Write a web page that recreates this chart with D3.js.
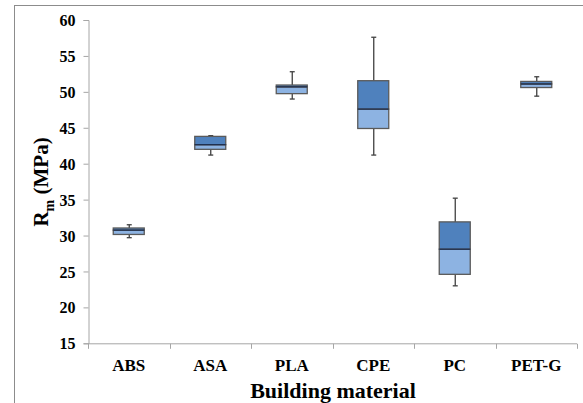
<!DOCTYPE html>
<html>
<head>
<meta charset="utf-8">
<script src="https://cdn.jsdelivr.net/npm/d3@7"></script>
<style>
  body { margin: 0; background: #fff; }
  svg text { font-family: "Liberation Serif", "Times New Roman", serif !important; font-weight: bold; }
</style>
</head>
<body>
<div id="chart"></div>
<script>
// box plot values (MPa)
const materials = ["ABS", "ASA", "PLA", "CPE", "PC", "PET-G"];
const whiskerMin = [29.7, 41.2, 49.0, 41.2, 23.0, 49.4];
const q1 = [30.15, 42.0, 49.75, 44.9, 24.6, 50.6];
const median = [30.75, 42.65, 50.7, 47.6, 28.1, 51.1];
const q3 = [31.05, 43.8, 50.95, 51.55, 31.9, 51.45];
const whiskerMax = [31.5, 43.9, 52.8, 57.6, 35.2, 52.1];
const yTicks = [15, 20, 25, 30, 35, 40, 45, 50, 55, 60];

const W = 583, H = 403;
const margin = { top: 20, right: 6, bottom: 60, left: 88 };
const SERIF = "'Liberation Serif', 'Times New Roman', serif";

const svg = d3.select("#chart").append("svg")
    .attr("width", W)
    .attr("height", H)
    .attr("font-family", SERIF);

// outer frame (right and bottom run off the page)
svg.append("rect")
    .attr("x", 14.5).attr("y", 5.5)
    .attr("width", 700).attr("height", 500)
    .attr("fill", "none")
    .attr("stroke", "#8c8c8c");

var x = d3.scaleBand()
    .domain(materials)
    .range([margin.left, 577])
    .paddingInner(0).paddingOuter(0);

var y = d3.scaleLinear()
    .domain([15, 60])
    .range([343.3, margin.top]);

// y axis
var yAxis = svg.append("g")
    .attr("transform", "translate(" + (margin.left + 0.5) + ",0)")
    .call(d3.axisLeft(y).tickValues(yTicks).tickSize(5).tickPadding(8));
yAxis.attr("font-family", SERIF).attr("font-size", 16).attr("font-weight", "bold");
yAxis.select(".domain").attr("stroke", "#a6a6a6");
yAxis.selectAll(".tick line").attr("stroke", "#a6a6a6");
yAxis.selectAll(".tick text")
    .attr("fill", "#000")
    .attr("dy", "0.35em");

// x axis: ticks at the category boundaries
var xg = svg.append("g").attr("transform", "translate(0," + (y(15) + 0.5) + ")");
xg.append("line")
    .attr("x1", margin.left).attr("x2", 577)
    .attr("stroke", "#a6a6a6");
var bounds = materials.map(m => x(m)).concat([x(materials[materials.length - 1]) + x.bandwidth()]);
xg.selectAll("line.tk")
    .data(bounds)
    .enter()
    .append("line")
    .attr("class", "tk")
    .attr("x1", d => Math.round(d) + 0.5).attr("x2", d => Math.round(d) + 0.5)
    .attr("y1", 0).attr("y2", 5)
    .attr("stroke", "#a6a6a6");
xg.selectAll("text")
    .data(materials)
    .enter()
    .append("text")
    .attr("x", d => x(d) + x.bandwidth() / 2)
    .attr("y", 27)
    .attr("text-anchor", "middle")
    .attr("font-size", 17)
    .text(d => d);

// axis titles
svg.append("text")
    .attr("x", 333).attr("y", 398)
    .attr("text-anchor", "middle")
    .attr("font-size", 22)
    .text("Building material");

var yt = svg.append("text")
    .attr("transform", "translate(48,182) rotate(-90)")
    .attr("text-anchor", "middle")
    .attr("font-size", 21);
yt.append("tspan").text("R");
yt.append("tspan").attr("dy", 6).attr("font-size", 14).text("m");
yt.append("tspan").attr("dy", -6).text(" (MPa)");

// boxes
var boxW = 31;
var boxes = svg.append("g")
    .selectAll("g")
    .data(materials)
    .enter()
    .append("g")
    .attr("transform", d => "translate(" + (x(d) + x.bandwidth() / 2) + ",0)");

// whiskers
boxes.append("line")
    .attr("x1", 0.5).attr("x2", 0.5)
    .attr("y1", (d, i) => y(whiskerMax[i])).attr("y2", (d, i) => y(q3[i]))
    .attr("stroke", "#404040").attr("stroke-width", 1.3);
boxes.append("line")
    .attr("x1", 0.5).attr("x2", 0.5)
    .attr("y1", (d, i) => y(q1[i])).attr("y2", (d, i) => y(whiskerMin[i]))
    .attr("stroke", "#404040").attr("stroke-width", 1.3);
[whiskerMax, whiskerMin].forEach(arr => {
    boxes.append("line")
        .attr("x1", -2).attr("x2", 3)
        .attr("y1", (d, i) => y(arr[i])).attr("y2", (d, i) => y(arr[i]))
        .attr("stroke", "#404040").attr("stroke-width", 1.3);
});

// lower half (light) and upper half (dark)
boxes.append("rect")
    .attr("x", -boxW / 2)
    .attr("width", boxW)
    .attr("y", (d, i) => y(median[i]))
    .attr("height", (d, i) => y(q1[i]) - y(median[i]))
    .attr("fill", "#8db3e2")
    .attr("stroke", "#5a5a5a").attr("stroke-width", 1.3);
boxes.append("rect")
    .attr("x", -boxW / 2)
    .attr("width", boxW)
    .attr("y", (d, i) => y(q3[i]))
    .attr("height", (d, i) => y(median[i]) - y(q3[i]))
    .attr("fill", "#4f81bd")
    .attr("stroke", "#5a5a5a").attr("stroke-width", 1.3);
boxes.append("line")
    .attr("x1", -boxW / 2).attr("x2", boxW / 2)
    .attr("y1", (d, i) => y(median[i])).attr("y2", (d, i) => y(median[i]))
    .attr("stroke", "#1f3050").attr("stroke-width", 1.3);
</script>
</body>
</html>
